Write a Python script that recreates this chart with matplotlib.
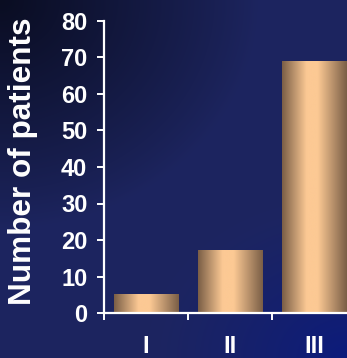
import numpy as np
import matplotlib
matplotlib.use('Agg')
import matplotlib.pyplot as plt
from matplotlib.colors import LinearSegmentedColormap, to_rgb

# Patients per stage
stages = ['I', 'II', 'III']
patients = [5, 17, 69]
y_ticks = [0, 10, 20, 30, 40, 50, 60, 70, 80]

plt.rcParams['font.family'] = ['Liberation Sans', 'DejaVu Sans']
plt.rcParams['font.weight'] = 'bold'

fig = plt.figure(figsize=(3.47, 3.58), dpi=100)

# Slide-style background: navy, darker toward the top-left, bluer bottom-right
bg_ax = fig.add_axes([0, 0, 1, 1], zorder=0)
h, w = 358, 347
yy, xx = np.mgrid[0:h, 0:w]
navy = np.array(to_rgb('#1d2560'))
dark = np.array(to_rgb('#0a0d22'))
blue = np.array(to_rgb('#0c1b7c'))
d_dark = np.clip(1 - np.hypot(xx / 260.0, yy / 230.0), 0, 1) ** 0.9
d_blue = np.clip(1 - np.hypot((w - xx) / 200.0, (h - yy) / 160.0), 0, 1) ** 1.2
img = navy[None, None, :] * np.ones((h, w, 1))
img = img * (1 - d_dark[..., None]) + dark * d_dark[..., None]
img = img * (1 - d_blue[..., None]) + blue * d_blue[..., None]
bg_ax.imshow(img, aspect='auto', extent=[0, 1, 0, 1])
bg_ax.axis('off')

ax = fig.add_axes([104 / 347, 45 / 358, 252 / 347, 292 / 358], zorder=1)
ax.patch.set_alpha(0)

x = np.arange(len(stages))
bars = ax.bar(x, patients, width=0.77, color='none', zorder=2)

# Metallic peach shading across each bar
bar_cmap = LinearSegmentedColormap.from_list(
    'peach', [(0.0, '#7a5e46'), (0.38, '#fcc994'), (0.55, '#fcc994'), (1.0, '#7a5e46')])
grad = np.linspace(0, 1, 256)[None, :]
for b in bars:
    x0, y0 = b.get_x(), b.get_y()
    ax.imshow(grad, cmap=bar_cmap, aspect='auto', zorder=2,
              extent=[x0, x0 + b.get_width(), y0, y0 + b.get_height()])

ax.set_xlim(-0.5, len(stages) - 0.5)
ax.set_ylim(0, 80)
ax.set_yticks(y_ticks)
ax.set_xticks(np.arange(len(stages) + 1) - 0.5, minor=True)
ax.set_xticks(x)
ax.set_xticklabels(stages)

for s in ['top', 'right']:
    ax.spines[s].set_visible(False)
for s in ['left', 'bottom']:
    ax.spines[s].set_color('white')
    ax.spines[s].set_linewidth(1.6)

ax.tick_params(axis='y', colors='white', labelsize=17, length=5, width=1.4, pad=7)
ax.tick_params(axis='x', which='major', colors='white', labelsize=17, length=0, pad=16)
ax.tick_params(axis='x', which='minor', colors='white', length=5, width=1.4)

ax.set_ylabel('Number of patients', color='white', fontsize=22.7, fontweight='bold')
ax.yaxis.set_label_coords(-0.26, 0.52)

fig.savefig('out.png', dpi=100)
